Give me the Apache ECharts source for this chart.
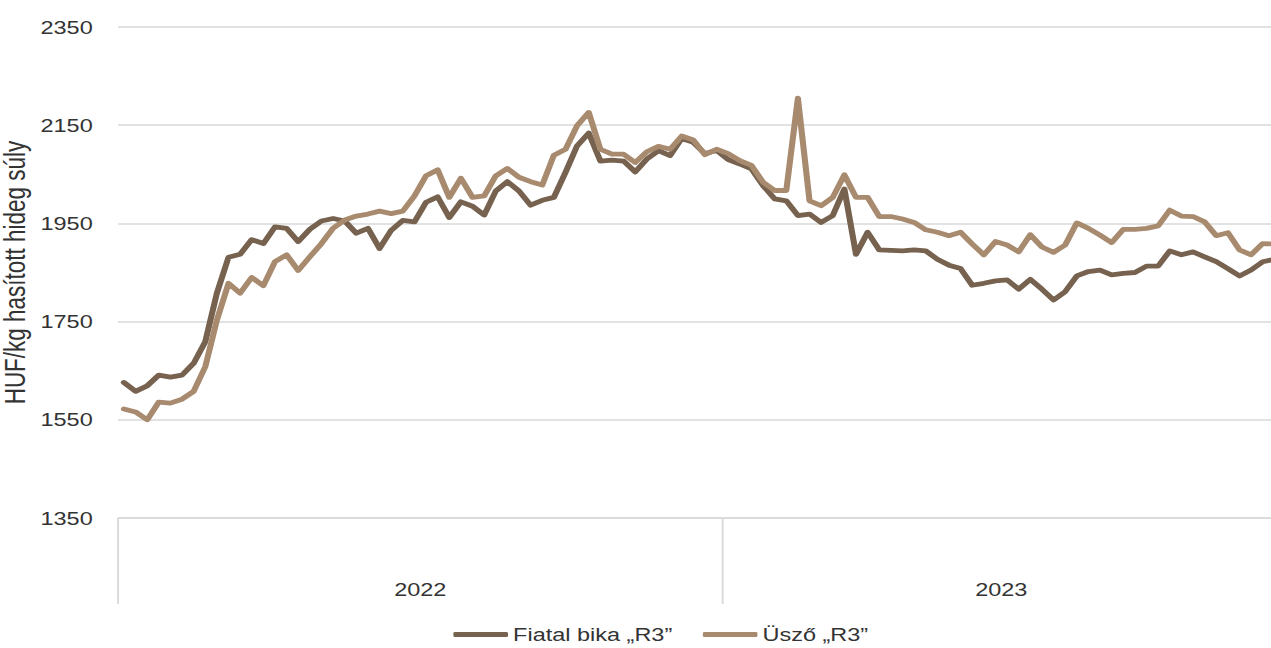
<!DOCTYPE html>
<html>
<head>
<meta charset="utf-8">
<title>Fiatal bika és üsző R3 ára</title>
<script src="https://cdn.jsdelivr.net/npm/echarts@6/dist/echarts.min.js"></script>
<style>
  html, body { margin: 0; padding: 0; overflow: hidden; background: #fff; }
  /* the reference is stretched horizontally, so draw narrower and stretch it */
  #chart { width: 1001px; height: 648px; transform: scaleX(1.27); transform-origin: 0 0; }
</style>
</head>
<body>
<div id="chart"></div>
<script>
// heti árak, HUF/kg hasított hideg súly
var years = ['2022', '2023'];
var weeksPerYear = [52, 48];

var bika = [
  1626, 1608, 1619, 1641, 1637, 1641, 1665, 1709, 1808, 1881,
  1887, 1917, 1909, 1943, 1940, 1913, 1938, 1955, 1960, 1955,
  1930, 1940, 1899, 1936, 1956, 1953, 1993, 2004, 1962, 1994,
  1985, 1967, 2016, 2035, 2016, 1987, 1997, 2003, 2054, 2108,
  2134, 2077, 2079, 2077, 2055, 2081, 2098, 2088, 2123, 2115,
  2092, 2099, 2080, 2071, 2061, 2027, 2000, 1996, 1966, 1969,
  1952, 1966, 2020, 1887, 1932, 1896, 1895, 1894, 1896, 1894,
  1877, 1865, 1858, 1824, 1828, 1833, 1835, 1816, 1836, 1816,
  1794, 1811, 1843, 1852, 1855, 1845, 1848, 1850, 1863, 1863,
  1894, 1886, 1892, 1882, 1872, 1858, 1843, 1855, 1872, 1877
];

var uszo = [
  1572, 1566, 1550, 1586, 1584, 1592, 1608, 1658, 1753, 1828,
  1808, 1840, 1823, 1872, 1886, 1854, 1882, 1909, 1940, 1957,
  1965, 1969, 1975, 1970, 1975, 2006, 2047, 2059, 2003, 2042,
  2003, 2006, 2047, 2062, 2044, 2035, 2028, 2089, 2101, 2149,
  2176, 2101, 2091, 2091, 2074, 2096, 2107, 2101, 2128, 2120,
  2090, 2101, 2092, 2078, 2068, 2034, 2017, 2017, 2205, 1996,
  1986, 2003, 2049, 2003, 2003, 1964, 1964, 1959, 1952, 1937,
  1932, 1925, 1932, 1908, 1886, 1913, 1906, 1892, 1927, 1902,
  1891, 1906, 1951, 1940, 1926, 1911, 1938, 1938, 1940, 1945,
  1977, 1965, 1964, 1953, 1925, 1931, 1896, 1886, 1909, 1908
];

// hetek mint kategóriák, évhatárok és évközepek
var weeks = [];
var yearBounds = [0];
var yearMids = [];
var pos = 0;
years.forEach(function (y, k) {
  for (var w = 1; w <= weeksPerYear[k]; w++) {
    weeks.push(y + '. ' + w + '. hét');
  }
  yearMids.push(pos + weeksPerYear[k] / 2);
  pos += weeksPerYear[k];
  yearBounds.push(pos);
});

var font = 'Liberation Sans, Arial, sans-serif';
var textColor = '#333333';
var gridColor = '#d9d9d9';

var myChart = echarts.init(document.getElementById('chart'), null, { renderer: 'svg' });
myChart.setOption({
  animation: false,
  textStyle: { fontFamily: font },
  legend: {
    left: 357,
    top: 625,
    padding: 0,
    itemWidth: 43,
    itemHeight: 5,
    itemGap: 24,
    icon: 'roundRect',
    textStyle: { fontSize: 18.5, color: textColor, fontFamily: font, padding: [0, 0, 0, -1] },
    data: ['Fiatal bika „R3”', 'Üsző „R3”']
  },
  grid: {
    left: 93,
    top: 27,
    width: 915,
    height: 491,
    containLabel: false,
    outerBoundsMode: 'none'
  },
  xAxis: [
    {
      type: 'category',
      data: weeks,
      boundaryGap: true,
      axisLine: { show: true, lineStyle: { color: gridColor, width: 1.5 } },
      axisTick: { show: false },
      axisLabel: { show: false }
    },
    {
      // év szerinti csoportosítás a tengely alatt
      type: 'value',
      position: 'bottom',
      min: 0,
      max: pos,
      axisLine: { show: false },
      splitLine: { show: false },
      axisTick: {
        show: true,
        customValues: yearBounds,
        length: 86,
        lineStyle: { color: gridColor, width: 1.5 }
      },
      axisLabel: {
        customValues: yearMids,
        margin: 62,
        fontSize: 18.5,
        color: textColor,
        fontFamily: font,
        formatter: function (v) {
          var k = yearMids.indexOf(v);
          return k >= 0 ? years[k] : '';
        }
      }
    }
  ],
  yAxis: {
    type: 'value',
    min: 1350,
    max: 2350,
    interval: 200,
    name: 'HUF/kg hasított hideg súly',
    nameLocation: 'middle',
    nameGap: 70,
    nameMoveOverlap: false,
    nameTextStyle: { fontSize: 22.5, color: textColor, fontFamily: font },
    axisLine: { show: false },
    axisTick: { show: false },
    axisLabel: {
      margin: 20,
      fontSize: 18.5,
      color: textColor,
      fontFamily: font,
      formatter: function (v) { return String(v); }
    },
    splitLine: { lineStyle: { color: gridColor, width: 1.5 } }
  },
  series: [
    {
      name: 'Fiatal bika „R3”',
      type: 'line',
      data: bika,
      symbol: 'none',
      color: '#76624f',
      lineStyle: { width: 4.8, cap: 'round', join: 'round' }
    },
    {
      name: 'Üsző „R3”',
      type: 'line',
      data: uszo,
      symbol: 'none',
      color: '#a88a6f',
      lineStyle: { width: 4.8, cap: 'round', join: 'round' }
    }
  ]
});
</script>
</body>
</html>
